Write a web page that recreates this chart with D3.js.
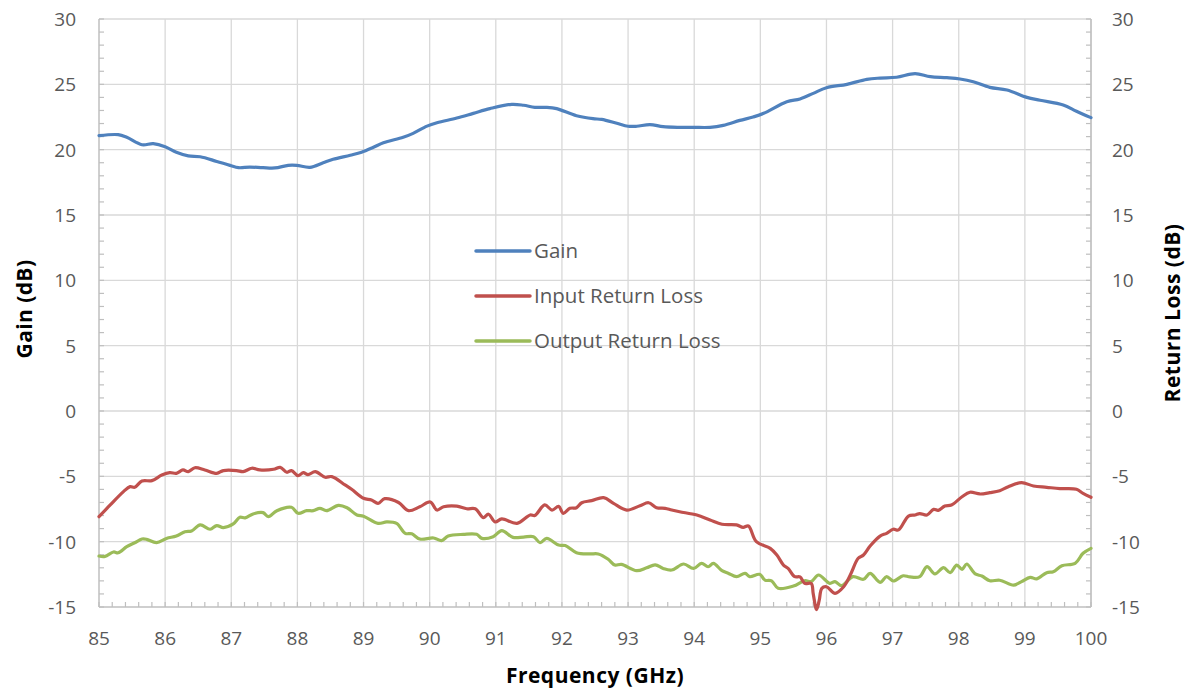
<!DOCTYPE html>
<html><head><meta charset="utf-8">
<script src="https://cdn.jsdelivr.net/npm/d3@7"></script>
<style>body{margin:0;background:#fff;} text{font-family:"Open Sans",Lato,sans-serif;}</style>
</head><body><svg id="c" width="1187" height="690"></svg>
<script>
const gainFreq=[85.00,85.29,85.42,85.65,85.82,86.00,86.17,86.35,86.53,86.78,86.98,87.11,87.28,87.48,87.66,87.86,87.99,88.19,88.39,88.54,88.80,88.97,89.15,89.30,89.60,89.75,89.96,90.11,90.41,90.66,90.91,91.24,91.42,91.59,91.77,91.92,92.22,92.47,92.60,92.83,93.00,93.13,93.33,93.53,93.78,93.99,94.24,94.44,94.69,94.89,95.05,95.40,95.60,95.80,96.00,96.31,96.61,96.81,97.06,97.34,97.57,97.82,98.02,98.22,98.47,98.73,99.03,99.23,99.58,99.78,100.0];
const gainVal=[21.07,21.15,20.95,20.38,20.46,20.23,19.80,19.52,19.46,19.10,18.80,18.62,18.67,18.62,18.60,18.80,18.80,18.65,19.00,19.26,19.57,19.80,20.18,20.53,20.95,21.25,21.80,22.06,22.42,22.78,23.14,23.47,23.40,23.24,23.24,23.14,22.60,22.37,22.32,22.02,21.79,21.79,21.92,21.76,21.71,21.71,21.71,21.86,22.24,22.50,22.78,23.67,23.88,24.31,24.74,25.00,25.38,25.48,25.54,25.82,25.59,25.51,25.41,25.20,24.77,24.57,24.00,23.78,23.42,22.94,22.45];

const irlFreq=[85.00,85.17,85.37,85.47,85.54,85.65,85.80,85.95,86.07,86.17,86.27,86.35,86.45,86.60,86.78,86.88,87.08,87.18,87.31,87.43,87.64,87.74,87.84,87.91,88.01,88.09,88.16,88.27,88.42,88.52,88.72,88.82,89.00,89.12,89.22,89.32,89.53,89.68,89.85,90.01,90.11,90.21,90.41,90.56,90.69,90.81,90.89,90.99,91.09,91.32,91.52,91.59,91.74,91.85,91.95,92.02,92.12,92.22,92.30,92.45,92.63,92.78,92.98,93.18,93.31,93.43,93.56,93.66,93.78,94.04,94.24,94.42,94.64,94.74,94.82,94.94,95.15,95.25,95.35,95.42,95.52,95.60,95.67,95.77,95.80,95.85,95.89,95.93,96.00,96.13,96.26,96.36,96.48,96.56,96.66,96.81,96.91,97.01,97.09,97.24,97.34,97.41,97.52,97.62,97.69,97.79,97.89,98.05,98.17,98.32,98.47,98.62,98.75,98.95,99.13,99.33,99.53,99.78,99.88,100.0];
const irlVal=[-8.09,-7.19,-6.17,-5.79,-5.84,-5.36,-5.33,-4.90,-4.72,-4.77,-4.51,-4.64,-4.34,-4.51,-4.77,-4.56,-4.56,-4.64,-4.38,-4.51,-4.46,-4.31,-4.69,-4.56,-4.95,-4.72,-4.87,-4.64,-5.07,-5.02,-5.66,-5.99,-6.68,-6.81,-7.07,-6.71,-7.00,-7.63,-7.33,-6.96,-7.58,-7.33,-7.28,-7.48,-7.48,-8.16,-7.90,-8.49,-8.26,-8.60,-7.96,-8.00,-7.19,-7.58,-7.30,-7.83,-7.45,-7.40,-7.02,-6.86,-6.63,-7.07,-7.58,-7.25,-7.02,-7.40,-7.45,-7.58,-7.71,-7.96,-8.34,-8.67,-8.72,-8.90,-8.80,-10.00,-10.51,-11.02,-11.79,-12.04,-12.68,-12.70,-13.19,-13.20,-14.00,-15.20,-14.50,-13.57,-13.45,-13.95,-13.45,-12.55,-11.27,-11.02,-10.33,-9.57,-9.36,-9.05,-9.10,-8.04,-7.96,-7.85,-7.96,-7.53,-7.60,-7.27,-7.20,-6.56,-6.22,-6.35,-6.25,-6.10,-5.79,-5.48,-5.74,-5.84,-5.94,-5.99,-6.30,-6.60];

const orlFreq=[85.00,85.09,85.22,85.29,85.42,85.54,85.65,85.72,85.87,86.02,86.17,86.30,86.40,86.53,86.68,86.78,86.88,87.03,87.13,87.21,87.33,87.48,87.56,87.69,87.91,88.01,88.14,88.24,88.34,88.44,88.62,88.75,88.90,89.00,89.22,89.35,89.50,89.63,89.73,89.85,90.06,90.18,90.28,90.51,90.71,90.79,90.96,91.09,91.26,91.42,91.57,91.67,91.77,91.95,92.05,92.22,92.42,92.55,92.70,92.80,92.90,93.13,93.28,93.41,93.53,93.66,93.84,93.99,94.11,94.21,94.29,94.42,94.52,94.64,94.77,94.84,94.99,95.07,95.17,95.27,95.50,95.67,95.77,95.88,96.05,96.13,96.23,96.40,96.56,96.66,96.81,96.91,97.01,97.16,97.26,97.41,97.52,97.64,97.77,97.87,97.97,98.05,98.12,98.25,98.35,98.47,98.62,98.83,98.95,99.08,99.18,99.33,99.43,99.56,99.76,99.88,100.0];
const orlVal=[-11.10,-11.13,-10.79,-10.85,-10.38,-10.08,-9.80,-9.82,-10.08,-9.75,-9.57,-9.24,-9.18,-8.72,-9.05,-8.77,-8.92,-8.64,-8.13,-8.18,-7.88,-7.78,-8.09,-7.63,-7.37,-7.83,-7.63,-7.63,-7.45,-7.63,-7.22,-7.40,-7.96,-8.05,-8.60,-8.49,-8.60,-9.36,-9.40,-9.80,-9.72,-9.92,-9.57,-9.44,-9.44,-9.75,-9.62,-9.16,-9.67,-9.65,-9.62,-10.08,-9.75,-10.26,-10.30,-10.84,-10.94,-10.94,-11.35,-11.79,-11.74,-12.22,-12.00,-11.77,-12.05,-12.17,-11.71,-12.05,-11.66,-11.92,-11.66,-12.22,-12.43,-12.68,-12.43,-12.68,-12.50,-12.94,-13.00,-13.57,-13.40,-12.99,-13.05,-12.55,-13.19,-13.06,-13.37,-12.68,-12.88,-12.43,-13.11,-12.68,-13.01,-12.61,-12.70,-12.68,-11.91,-12.47,-11.99,-12.37,-11.79,-12.12,-11.71,-12.47,-12.63,-12.99,-12.95,-13.32,-13.06,-12.73,-12.85,-12.37,-12.30,-11.84,-11.66,-10.89,-10.51];

const xTicks=[85,86,87,88,89,90,91,92,93,94,95,96,97,98,99,100];
const yTicks=[-15,-10,-5,0,5,10,15,20,25,30];
const seriesNames=["Gain","Input Return Loss","Output Return Loss"];
const seriesColors=["#4f81bd","#c0504d","#9bbb59"];

const W=1187,H=690,m={l:99,t:19,r:96,b:83};
const svg=d3.select("#c");
const x=d3.scaleLinear().domain([85,100]).range([m.l,W-m.r]);
const y=d3.scaleLinear().domain([-15,30]).range([H-m.b,m.t]);
const textCol="#595959",grid="#d9d9d9",axisCol="#bfbfbf";

// gridlines
svg.append("g").selectAll("line").data(xTicks.slice(1)).join("line")
 .attr("x1",d=>x(d)).attr("x2",d=>x(d)).attr("y1",y(30)).attr("y2",y(-15))
 .attr("stroke",grid).attr("stroke-width",1.3);
svg.append("g").selectAll("line").data(yTicks.slice(1)).join("line")
 .attr("x1",x(85)).attr("x2",x(100)).attr("y1",d=>y(d)).attr("y2",d=>y(d))
 .attr("stroke",grid).attr("stroke-width",1.3);

// minor ticks
const xMinor=d3.range(85,100.001,0.2);
svg.append("g").selectAll("line").data(xMinor).join("line")
 .attr("x1",d=>x(d)).attr("x2",d=>x(d)).attr("y1",y(-15)).attr("y2",y(-15)-5)
 .attr("stroke",axisCol).attr("stroke-width",1.2);
const yMinor=d3.range(-15,30.001,1);
svg.append("g").selectAll("line").data(yMinor).join("line")
 .attr("x1",x(85)).attr("x2",x(85)+5).attr("y1",d=>y(d)).attr("y2",d=>y(d))
 .attr("stroke",axisCol).attr("stroke-width",1.2);
svg.append("g").selectAll("line").data(yMinor).join("line")
 .attr("x1",x(100)).attr("x2",x(100)-5).attr("y1",d=>y(d)).attr("y2",d=>y(d))
 .attr("stroke",axisCol).attr("stroke-width",1.2);

// axis lines
svg.append("line").attr("x1",x(85)).attr("x2",x(85)).attr("y1",y(30)).attr("y2",y(-15)).attr("stroke",axisCol).attr("stroke-width",1.5);
svg.append("line").attr("x1",x(100)).attr("x2",x(100)).attr("y1",y(30)).attr("y2",y(-15)).attr("stroke",axisCol).attr("stroke-width",1.5);
svg.append("line").attr("x1",x(85)).attr("x2",x(100)).attr("y1",y(-15)).attr("y2",y(-15)).attr("stroke",axisCol).attr("stroke-width",1.5);

// tick labels
svg.append("g").selectAll("text").data(yTicks).join("text")
 .attr("x",x(85)-23).attr("y",d=>y(d)).attr("dy","0.36em").attr("text-anchor","end")
 .attr("font-size",19).attr("fill",textCol).text(d=>d);
svg.append("g").selectAll("text").data(yTicks).join("text")
 .attr("x",x(100)+21).attr("y",d=>y(d)).attr("dy","0.36em").attr("text-anchor","start")
 .attr("font-size",19).attr("fill",textCol).text(d=>d);
svg.append("g").selectAll("text").data(xTicks).join("text")
 .attr("x",d=>x(d)).attr("y",y(-15)+31).attr("dy","0.36em").attr("text-anchor","middle")
 .attr("font-size",19).attr("fill",textCol).text(d=>d);

// axis titles
svg.append("text").attr("transform",`translate(32,309) rotate(-90)`)
 .attr("text-anchor","middle").attr("font-size",21).attr("letter-spacing",0.4).attr("font-weight","bold").attr("fill","#000").text("Gain (dB)");
svg.append("text").attr("transform",`translate(1180,313) rotate(-90)`)
 .attr("text-anchor","middle").attr("font-size",21).attr("letter-spacing",0.5).attr("font-weight","bold").attr("fill","#000").text("Return Loss (dB)");
svg.append("text").attr("x",595).attr("y",683)
 .attr("text-anchor","middle").attr("font-size",21).attr("letter-spacing",0.5).attr("font-weight","bold").attr("fill","#000").text("Frequency (GHz)");

// lines
const line=d3.line().x(d=>x(d[0])).y(d=>y(d[1])).curve(d3.curveCatmullRom.alpha(0.5));
const series=[d3.zip(gainFreq,gainVal),d3.zip(irlFreq,irlVal),d3.zip(orlFreq,orlVal)];
[2,1,0].forEach(i=>{
 svg.append("path").datum(series[i]).attr("d",line).attr("fill","none")
  .attr("stroke",seriesColors[i]).attr("stroke-width",3.2).attr("stroke-linejoin","round").attr("stroke-linecap","round");
});

// legend
const lg=svg.append("g");
seriesNames.forEach((n,i)=>{
 const ly=251+i*45;
 lg.append("line").attr("x1",476).attr("x2",530).attr("y1",ly).attr("y2",ly)
  .attr("stroke",seriesColors[i]).attr("stroke-width",3.5).attr("stroke-linecap","round");
 lg.append("text").attr("x",534).attr("y",ly).attr("dy","0.36em").attr("font-size",20.5).attr("fill",textCol).text(n);
});
</script></body></html>
